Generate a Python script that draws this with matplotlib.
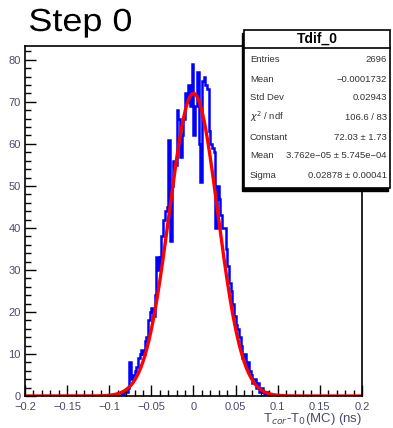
"""Step 0: Tcor - T0(MC) residual histogram with gaussian fit (ROOT style)"""
import numpy as np
import matplotlib
matplotlib.use('Agg')
from matplotlib import pyplot as plt
from matplotlib.patches import Rectangle, PathPatch
from matplotlib.textpath import TextPath
from matplotlib.font_manager import FontProperties
from matplotlib.transforms import Affine2D
from matplotlib.ticker import MultipleLocator

plt.rcParams['font.family'] = ['Liberation Sans', 'DejaVu Sans']

# histogram: 200 bins on [-0.2, 0.2], only bins from -0.09 to 0.09 are filled
x_min, x_max, n_bins = -0.2, 0.2, 200
filled_lo = -0.09
filled_counts = [
    0, 0, 1, 0, 1, 1, 2, 8, 4, 5,
    6, 7, 9, 10, 11, 10, 13, 14, 18, 20,
    21, 19, 24, 33, 30, 33, 38, 42, 44, 45,
    61, 37, 50, 56, 55, 68, 66, 57, 62, 66,
    72, 70, 74, 69, 79, 62, 69, 77, 60, 51,
    75, 76, 74, 73, 63, 60, 59, 58, 40, 50,
    47, 43, 40, 40, 35, 31, 27, 25, 22, 19,
    17, 16, 14, 12, 9, 10, 7, 8, 6, 5,
    3, 4, 2, 3, 1, 2, 1, 0, 1, 0,
]

# fit parameters (gaus)
fit_const, fit_mean, fit_sigma = 72.03, 3.762e-05, 0.02878

stat_labels = ['Entries', 'Mean', 'Std Dev', r'$\chi^2$ / ndf', 'Constant', 'Mean', 'Sigma']
stat_values = ['2696', '\u22120.0001732', '0.02943', '106.6 / 83', '72.03 \u00b1 1.73',
               '3.762e\u221205 \u00b1 5.745e\u221204', '0.02878 \u00b1 0.00041']

W, H = 393, 428
fig = plt.figure(figsize=(W / 100, H / 100), dpi=100)
ax = fig.add_axes([25 / W, 1 - 396 / H, (362 - 25) / W, (396 - 46) / H])

edges = np.linspace(x_min, x_max, n_bins + 1)
counts = np.zeros(n_bins)
start = int(round((filled_lo - x_min) / (x_max - x_min) * n_bins))
counts[start:start + len(filled_counts)] = filled_counts
ax.stairs(counts, edges, color='#0000ff', lw=1.8)

xf = np.linspace(x_min, x_max, 800)
ax.plot(xf, fit_const * np.exp(-0.5 * ((xf - fit_mean) / fit_sigma) ** 2),
        color='#ff0000', lw=2.4)

ax.set_xlim(x_min, x_max)
ax.set_ylim(0, 83.3)
ax.xaxis.set_minor_locator(MultipleLocator(0.01))
ax.yaxis.set_major_locator(MultipleLocator(10))
ax.yaxis.set_minor_locator(MultipleLocator(2))
ax.set_xticks(np.arange(-0.2, 0.201, 0.05))
ax.set_xticklabels(['\u22120.2', '\u22120.15', '\u22120.1', '\u22120.05', '0',
                    '0.05', '0.1', '0.15', '0.2'])
ax.tick_params(which='both', direction='in', top=False, right=False,
               labelsize=8, labelcolor='#4a4a6a', width=1.0)
ax.tick_params(which='major', length=8)
ax.tick_params(which='minor', length=4)
ax.tick_params(axis='x', pad=4)
ax.tick_params(axis='y', pad=3)
for s in ax.spines.values():
    s.set_linewidth(1.2)

fig.text(362 / W, 1 - 419 / H, r'T$_{cor}$-T$_{0}$(MC) (ns)', ha='right', va='center',
         fontsize=9.5, color='#4a4a6a')

# title "Step 0": left 30 px, width ~101 px, cap height ~23 px, baseline at y=31
tp = TextPath((0, 0), 'Step 0', size=1, prop=FontProperties(family='Liberation Sans'))
bb = tp.get_extents()
sx, sy = 101 / bb.width, 23 / 0.72
tr = Affine2D().translate(-bb.x0, 0).scale(sx / W, sy / H).translate(30 / W, 1 - 31 / H)
fig.patches.append(PathPatch(tp, transform=tr + fig.transFigure, fc='black', ec='none'))

# stats box
bx0, bx1, by0, by1 = 244 / W, 390 / W, 1 - 188 / H, 1 - 30 / H
fig.patches.append(Rectangle((bx0 - 2 / W, by0 - 3 / H), bx1 - bx0, by1 - by0,
                             transform=fig.transFigure, fc='black', ec='black', lw=1,
                             zorder=5))
fig.patches.append(Rectangle((bx0, by0), bx1 - bx0, by1 - by0, transform=fig.transFigure,
                             fc='white', ec='black', lw=1.2, zorder=6))
sep = 1 - 48 / H
fig.add_artist(plt.Line2D([bx0, bx1], [sep, sep], transform=fig.transFigure,
                          color='black', lw=1.2, zorder=7))
fig.text((bx0 + bx1) / 2, 1 - 39 / H, 'Tdif_0', ha='center', va='center',
         fontsize=10, fontweight='bold', zorder=8)
row_y = [60, 80, 98, 117, 137, 155, 175]
for lab, val, yy in zip(stat_labels, stat_values, row_y):
    fig.text(250 / W, 1 - yy / H, lab, ha='left', va='center', fontsize=6.8,
             color='#333333', zorder=8)
    fig.text(387 / W, 1 - yy / H, val, ha='right', va='center', fontsize=6.8,
             color='#333333', zorder=8)

fig.savefig('out.png', dpi=100)
